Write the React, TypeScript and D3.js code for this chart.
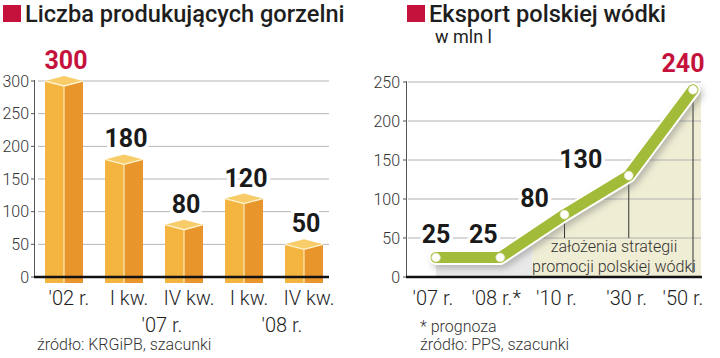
import React from "react";
import * as d3 from "d3";

// ---- Data ----
const barCategories = ["'02 r.", "I kw.", "IV kw.", "I kw.", "IV kw."];
const barYearGroups = [
  { label: "'07 r.", from: 1, to: 2 },
  { label: "'08 r.", from: 3, to: 4 },
];
const barValues = [300, 180, 80, 120, 50];
const barTicks = [0, 50, 100, 150, 200, 250, 300];

const lineCategories = ["'07 r.", "'08 r.*", "'10 r.", "'30 r.", "'50 r."];
const lineValues = [25, 25, 80, 130, 240];
const lineTicks = [0, 50, 100, 150, 200, 250];

// layout-only nudges for the value labels on the line chart
const lineLabelDx = [0, -17, -30, -48, -10];
const lineLabelDy = [-15, -15, -8, -8, -18];

const FONT = "Roboto, 'Noto Sans', sans-serif";
const CRIMSON = "#c5123c";
const GREEN = "#a2bb38";

function BarChart() {
  const base = 277;
  const y = d3.scaleLinear().domain([0, 300]).range([base, 81]);
  const x = d3
    .scalePoint<number>()
    .domain(d3.range(barValues.length))
    .range([64, 304]);
  const w = 19;
  const d = 5;
  const maxV = d3.max(barValues) as number;
  return (
    <g>
      <rect x={3} y={5} width={18} height={17} fill={CRIMSON} />
      <text x={25} y={22} fontSize={23.6} fontWeight={500} fill="#1e1e1e" fontFamily={FONT}>
        Liczba produkujących gorzelni
      </text>
      {barTicks.map((t) => (
        <g key={t}>
          {t > 0 && (
            <line x1={38} x2={329} y1={y(t)} y2={y(t)} stroke="#b5b5b5" strokeWidth={1} />
          )}
          <line x1={31} x2={34} y1={y(t)} y2={y(t)} stroke="#555" strokeWidth={1} />
          <text
            x={29}
            y={y(t) + 5.5}
            textAnchor="end"
            fontSize={16}
            fontWeight={300}
            fill="#333"
            fontFamily={FONT}
          >
            {t}
          </text>
        </g>
      ))}
      <line x1={34.5} x2={34.5} y1={y(300) - 1} y2={base} stroke="#555" strokeWidth={1} />
      {barValues.map((v, i) => {
        const cx = x(i) as number;
        const vy = y(v);
        const bot = base + 6;
        return (
          <g key={i}>
            <polygon
              points={`${cx - w},${vy} ${cx},${vy + d} ${cx},${bot} ${cx - w},${bot}`}
              fill="#f3b540"
            />
            <polygon
              points={`${cx},${vy + d} ${cx + w},${vy} ${cx + w},${bot} ${cx},${bot}`}
              fill="#e8952b"
            />
            <polygon
              points={`${cx},${vy - d} ${cx + w},${vy} ${cx},${vy + d} ${cx - w},${vy}`}
              fill="#f8cc68"
            />
            <polyline
              points={`${cx - w},${vy} ${cx},${vy + d} ${cx + w},${vy}`}
              fill="none"
              stroke="#fff3cf"
              strokeWidth={1.3}
            />
            <line x1={cx} x2={cx} y1={vy + d} y2={bot} stroke="#fbe3b0" strokeWidth={1.3} />
          </g>
        );
      })}
      <line x1={34} x2={329} y1={base} y2={base} stroke="#111" strokeWidth={2.5} />
      {barValues.map((v, i) => {
        const cx = x(i) as number;
        return (
          <text
            key={i}
            x={cx + 2}
            y={y(v) - d - 7}
            textAnchor="middle"
            fontSize={25}
            fontWeight={700}
            fill={v === maxV ? CRIMSON : "#1a1a1a"}
            stroke="#fff"
            strokeWidth={7}
            paintOrder="stroke"
            fontFamily={FONT}
          >
            {v}
          </text>
        );
      })}
      {barCategories.map((c, i) => (
        <text
          key={i}
          x={(x(i) as number) + 5}
          y={305}
          textAnchor="middle"
          fontSize={20}
          fontWeight={300}
          fill="#1e1e1e"
          fontFamily={FONT}
        >
          {c}
        </text>
      ))}
      {barYearGroups.map((g) => (
        <text
          key={g.label}
          x={((x(g.from) as number) + (x(g.to) as number)) / 2 + 8}
          y={332}
          textAnchor="middle"
          fontSize={20}
          fontWeight={300}
          fill="#1e1e1e"
          fontFamily={FONT}
        >
          {g.label}
        </text>
      ))}
      <text x={37} y={350} fontSize={16} fontWeight={300} fill="#333" fontFamily={FONT}>
        źródło: KRGiPB, szacunki
      </text>
    </g>
  );
}

function LineChart() {
  const base = 277;
  const y = d3.scaleLinear().domain([0, 250]).range([base, 82]);
  const x = d3.scalePoint<string>().domain(lineCategories).range([436, 693]);
  const pts: [number, number][] = lineValues.map((v, i) => [
    x(lineCategories[i]) as number,
    y(v),
  ]);
  const line = d3.line<[number, number]>().x((p) => p[0]).y((p) => p[1]);
  const area = d3
    .area<[number, number]>()
    .x((p) => p[0])
    .y0(base)
    .y1((p) => p[1]);
  const xLeft = 406;
  const xRight = 701;
  const split = ((x(lineCategories[1]) as number) + (x(lineCategories[2]) as number)) / 2;
  const maxV = d3.max(lineValues) as number;
  return (
    <g>
      <defs>
        <clipPath id="beigeClip">
          <rect x={split} y={0} width={xRight - split} height={base} />
        </clipPath>
        <clipPath id="grayClip">
          <rect x={pts[0][0]} y={0} width={split - pts[0][0]} height={base} />
        </clipPath>
        <filter id="shadow" x="-20%" y="-20%" width="140%" height="140%">
          <feGaussianBlur stdDeviation={3} />
        </filter>
      </defs>
      <rect x={407} y={5} width={18} height={17} fill={CRIMSON} />
      <text x={429} y={22} fontSize={23.6} fontWeight={500} fill="#1e1e1e" fontFamily={FONT}>
        Eksport polskiej wódki
      </text>
      <text x={435} y={43} fontSize={18} fontWeight={400} fill="#1e1e1e" fontFamily={FONT}>
        w mln l
      </text>
      <path
        d={area(pts.concat([[xRight, pts[pts.length - 1][1]]])) || ""}
        fill="#efedd3"
        clipPath="url(#beigeClip)"
      />
      <path d={area(pts) || ""} fill="#e9e9e9" clipPath="url(#grayClip)" />
      {lineTicks.map((t) => (
        <g key={t}>
          {t > 0 && (
            <line x1={xLeft + 2} x2={xRight} y1={y(t)} y2={y(t)} stroke="#b0b0b0" strokeWidth={1} />
          )}
          <line x1={xLeft - 3} x2={xLeft} y1={y(t)} y2={y(t)} stroke="#555" strokeWidth={1} />
          <text
            x={400}
            y={y(t) + 5.5}
            textAnchor="end"
            fontSize={16}
            fontWeight={300}
            fill="#333"
            fontFamily={FONT}
          >
            {t}
          </text>
        </g>
      ))}
      <line x1={xLeft + 0.5} x2={xLeft + 0.5} y1={y(250) - 1} y2={base} stroke="#555" strokeWidth={1} />
      {pts.slice(2).map((p, i) => (
        <line
          key={i}
          x1={p[0]}
          x2={p[0]}
          y1={p[1]}
          y2={i === pts.length - 3 ? base - 4 : 238}
          stroke="#333"
          strokeWidth={1}
        />
      ))}
      <text
        textAnchor="middle"
        fontSize={16}
        fontWeight={300}
        fill="#333"
        fontFamily={FONT}
      >
        <tspan x={614} y={252}>założenia strategii</tspan>
        <tspan x={614} y={272}>promocji polskiej wódki</tspan>
      </text>
      <line x1={xLeft} x2={xRight + 1} y1={base} y2={base} stroke="#111" strokeWidth={2.5} />
      <path
        d={line(pts) || ""}
        fill="none"
        stroke="#777"
        strokeOpacity={0.45}
        strokeWidth={14}
        strokeLinecap="round"
        strokeLinejoin="round"
        transform="translate(3,4)"
        filter="url(#shadow)"
      />
      <path
        d={line(pts) || ""}
        fill="none"
        stroke="#fff"
        strokeWidth={15}
        strokeLinecap="round"
        strokeLinejoin="round"
      />
      <path
        d={line(pts) || ""}
        fill="none"
        stroke={GREEN}
        strokeWidth={11}
        strokeLinecap="round"
        strokeLinejoin="round"
      />
      {pts.map((p, i) => (
        <circle key={i} cx={p[0]} cy={p[1]} r={4.3} fill="#fff" stroke="#e8eed0" strokeWidth={0.8} />
      ))}
      {pts.map((p, i) => (
        <text
          key={i}
          x={p[0] + lineLabelDx[i]}
          y={p[1] + lineLabelDy[i]}
          textAnchor="middle"
          fontSize={25}
          fontWeight={700}
          fill={lineValues[i] === maxV ? CRIMSON : "#1a1a1a"}
          stroke={lineValues[i] === maxV ? "none" : "#fff"}
          strokeWidth={7}
          paintOrder="stroke"
          fontFamily={FONT}
        >
          {lineValues[i]}
        </text>
      ))}
      {lineCategories.map((c, i) => (
        <text
          key={c}
          x={(x(c) as number) + [-3, -4, -8, -2, -10][i]}
          y={305}
          textAnchor="middle"
          fontSize={20}
          fontWeight={300}
          fill="#1e1e1e"
          fontFamily={FONT}
        >
          {c}
        </text>
      ))}
      <text x={420} y={332} fontSize={16} fontWeight={300} fill="#333" fontFamily={FONT}>
        * prognoza
      </text>
      <text x={420} y={350} fontSize={16} fontWeight={300} fill="#333" fontFamily={FONT}>
        źródło: PPS, szacunki
      </text>
    </g>
  );
}

export default function App() {
  return (
    <svg
      width={720}
      height={358}
      viewBox="0 0 720 358"
      style={{ position: "absolute", left: 0, top: 0, background: "#fff" }}
    >
      <rect width={720} height={358} fill="#fff" />
      <BarChart />
      <LineChart />
    </svg>
  );
}
